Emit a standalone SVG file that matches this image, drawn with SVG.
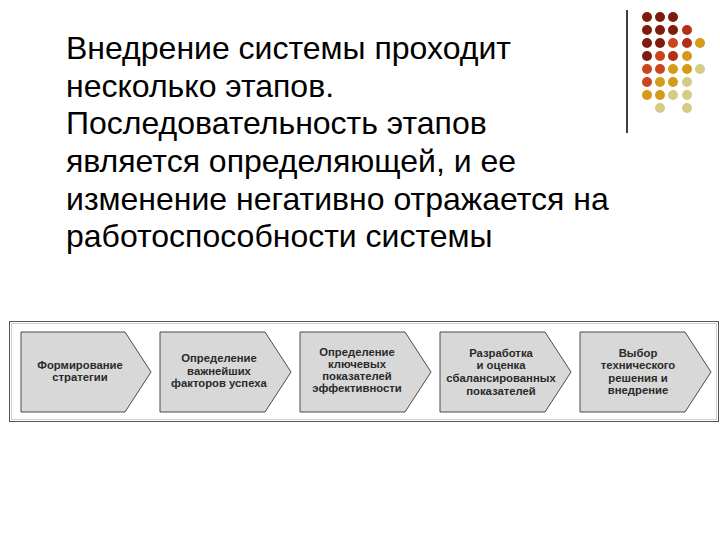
<svg xmlns="http://www.w3.org/2000/svg" width="720" height="540" viewBox="0 0 720 540">
<style>
.main{font-family:"Liberation Sans",Arial,sans-serif;font-size:32px;fill:#000}
.chev{fill:#d8d8d8;stroke:#4a4a4a;stroke-width:1}
.lbl{font-family:"Liberation Sans",Arial,sans-serif;font-size:11.3px;font-weight:bold;fill:#2a2a2a;text-anchor:middle}
.d1{fill:#801a0c}.d2{fill:#b52e16}.d3{fill:#cc441c}.d4{fill:#d59a1a}.d5{fill:#d2cc85}
</style>
<rect width="720" height="540" fill="#fff"/>
<g id="decor">
<line x1="627" y1="10" x2="627" y2="133" stroke="#000" stroke-width="1.5"/>
<circle class="d1" cx="647" cy="17" r="5"/><circle class="d1" cx="660" cy="17" r="5"/><circle class="d1" cx="673" cy="17" r="5"/>
<circle class="d1" cx="647" cy="30" r="5"/><circle class="d1" cx="660" cy="30" r="5"/><circle class="d1" cx="673" cy="30" r="5"/><circle class="d2" cx="687" cy="30" r="5"/>
<circle class="d1" cx="647" cy="43" r="5"/><circle class="d1" cx="660" cy="43" r="5"/><circle class="d3" cx="673" cy="43" r="5"/><circle class="d2" cx="687" cy="43" r="5"/><circle class="d4" cx="700" cy="43" r="5"/>
<circle class="d1" cx="647" cy="56" r="5"/><circle class="d3" cx="660" cy="56" r="5"/><circle class="d2" cx="673" cy="56" r="5"/><circle class="d4" cx="687" cy="56" r="5"/>
<circle class="d3" cx="647" cy="69" r="5"/><circle class="d3" cx="660" cy="69" r="5"/><circle class="d4" cx="673" cy="69" r="5"/><circle class="d4" cx="687" cy="69" r="5"/><circle class="d5" cx="700" cy="69" r="5"/>
<circle class="d3" cx="647" cy="82" r="5"/><circle class="d4" cx="660" cy="82" r="5"/><circle class="d4" cx="673" cy="82" r="5"/><circle class="d5" cx="687" cy="82" r="5"/>
<circle class="d4" cx="647" cy="95" r="5"/><circle class="d4" cx="660" cy="95" r="5"/><circle class="d5" cx="673" cy="95" r="5"/><circle class="d5" cx="687" cy="95" r="5"/>
<circle class="d5" cx="660" cy="108" r="5"/><circle class="d5" cx="687" cy="108" r="5"/>
</g>
<g id="title">
<text class="main" x="66" y="59">Внедрение системы проходит</text>
<text class="main" x="66" y="97">несколько этапов.</text>
<text class="main" x="66" y="134">Последовательность этапов</text>
<text class="main" x="66" y="172">является определяющей, и ее</text>
<text class="main" x="66" y="210">изменение негативно отражается на</text>
<text class="main" x="66" y="247">работоспособности системы</text>
</g>
<g id="frame">
<rect x="9.5" y="321.5" width="709" height="100" fill="#fff" stroke="#555" stroke-width="1"/>
<rect x="11.5" y="323.5" width="705" height="96" fill="none" stroke="#d0d0d0" stroke-width="1"/>
</g>
<g id="connectors"></g>
<g id="step1">
<polygon class="chev" points="21,332 125,332 151,372 125,412 21,412"/>
<text class="lbl" x="80" y="369">Формирование</text>
<text class="lbl" x="80" y="381">стратегии</text>
</g>
<g id="step2">
<polygon class="chev" points="160,332 265,332 291,372 265,412 160,412"/>
<text class="lbl" x="219" y="362">Определение</text>
<text class="lbl" x="219" y="375">важнейших</text>
<text class="lbl" x="219" y="387">факторов успеха</text>
</g>
<g id="step3">
<polygon class="chev" points="300,332 405,332 431,372 405,412 300,412"/>
<text class="lbl" x="357" y="356">Определение</text>
<text class="lbl" x="357" y="368">ключевых</text>
<text class="lbl" x="357" y="380">показателей</text>
<text class="lbl" x="357" y="392">эффективности</text>
</g>
<g id="step4">
<polygon class="chev" points="440,332 545,332 571,372 545,412 440,412"/>
<text class="lbl" x="501" y="357">Разработка</text>
<text class="lbl" x="501" y="369">и оценка</text>
<text class="lbl" x="501" y="382">сбалансированных</text>
<text class="lbl" x="501" y="395">показателей</text>
</g>
<g id="step5">
<polygon class="chev" points="580,332 685,332 711,372 685,412 580,412"/>
<text class="lbl" x="638" y="357">Выбор</text>
<text class="lbl" x="638" y="369">технического</text>
<text class="lbl" x="638" y="382">решения и</text>
<text class="lbl" x="638" y="394">внедрение</text>
</g>
</svg>
